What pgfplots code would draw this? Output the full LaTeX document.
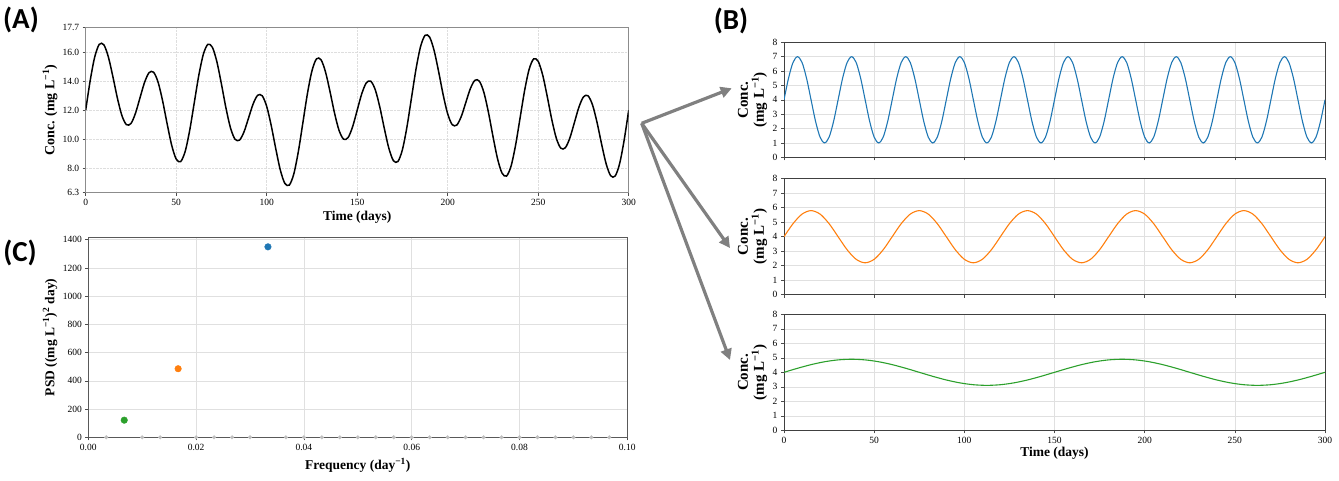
\documentclass[border=0pt]{standalone}
\usepackage{fontspec}
\setmainfont{Liberation Serif}
\newfontfamily\panelfont{Carlito}
\usepackage{pgfplots}
\pgfplotsset{compat=1.18}
\usetikzlibrary{arrows.meta}

\definecolor{tblue}{HTML}{1F77B4}
\definecolor{torange}{HTML}{FF7F0E}
\definecolor{tgreen}{HTML}{2CA02C}
\definecolor{arrowgray}{HTML}{808080}

\pgfplotsset{
  base/.style={
    scale only axis, anchor=south west,
    tick align=outside, major tick length=3pt,
    tick style={black!70, line width=0.6pt},
    /pgf/number format/assume math mode=true,
    /pgf/number format/1000 sep={},
    tick label style={font=\fontsize{9.5}{10}\selectfont},
    label style={font=\fontsize{13.5}{15}\selectfont\bfseries},
    xtick pos=left, ytick pos=left,
  },
  bpanel/.style={
    base, width=541pt, height=116pt,
    xmin=0, xmax=300, ymin=0, ymax=8,
    xtick={0,50,...,300}, ytick={0,1,...,8},
    grid=major, grid style={black!12, line width=0.6pt},
    axis line style={black!75, line width=0.9pt},
    tick label style={font=\fontsize{9.5}{10}\selectfont},
    ylabel={Conc.\\(mg L\textsuperscript{−1})},
    ylabel style={align=center, at={(axis description cs:-0.058,0.5)}, anchor=center,
      font=\fontsize{15}{16}\selectfont\bfseries},
  },
}

\begin{document}
\begin{tikzpicture}[x=1pt,y=1pt]
\path[use as bounding box] (0,0) rectangle (1339,480);

% ---------------- Panel A ----------------
\begin{axis}[base, at={(85.7pt,287.3pt)}, width=543pt, height=165pt,
  xmin=0, xmax=300, ymin=6.3, ymax=17.7,
  xtick={0,50,...,300}, ytick={6.3,8,10,12,14,16,17.7},
  yticklabel style={/pgf/number format/.cd, fixed, fixed zerofill, precision=1},
  grid=major, grid style={densely dotted, black!13, line width=0.5pt},
  axis line style={black!45, line width=1.2pt},
  xlabel={Time (days)}, ylabel={Conc. (mg L\textsuperscript{−1})},
  xlabel style={at={(axis description cs:0.5,-0.1475)}, anchor=center},
  ylabel style={at={(axis description cs:-0.0657,0.5)}, anchor=center,
    font=\fontsize{14}{15}\selectfont\bfseries},
]
\addplot[black, line width=1.5pt, smooth] coordinates {
(0,12.000) (2.5,14.060) (5,15.685) (7.5,16.551) (10,16.523) (12.5,15.689) (15,14.329) (17.5,12.841) (20,11.630) (22.5,11.001)
(25,11.081) (27.5,11.788) (30,12.856) (32.5,13.914) (35,14.593) (37.5,14.627) (40,13.934) (42.5,12.641) (45,11.056) (47.5,9.583)
(50,8.622) (52.5,8.455) (55,9.171) (57.5,10.636) (60,12.529) (62.5,14.416) (65,15.864) (67.5,16.551) (70,16.344) (72.5,15.333)
(75,13.800) (77.5,12.145) (80,10.774) (82.5,9.995) (85,9.936) (87.5,10.516) (90,11.471) (92.5,12.432) (95,13.029) (97.5,12.999)
(100,12.260) (102.5,10.939) (105,9.344) (107.5,7.881) (110,6.948) (112.5,6.827) (115,7.607) (117.5,9.154) (120,11.144) (122.5,13.144)
(125,14.719) (127.5,15.545) (130,15.488) (132.5,14.637) (135,13.271) (137.5,11.789) (140,10.595) (142.5,9.995) (145,10.115) (147.5,10.872)
(150,12.000) (152.5,13.128) (155,13.885) (157.5,14.005) (160,13.405) (162.5,12.211) (165,10.729) (167.5,9.363) (170,8.512) (172.5,8.455)
(175,9.281) (177.5,10.856) (180,12.856) (182.5,14.846) (185,16.393) (187.5,17.173) (190,17.052) (192.5,16.119) (195,14.656) (197.5,13.061)
(200,11.740) (202.5,11.001) (205,10.971) (207.5,11.568) (210,12.529) (212.5,13.484) (215,14.064) (217.5,14.005) (220,13.226) (222.5,11.855)
(225,10.200) (227.5,8.667) (230,7.656) (232.5,7.449) (235,8.136) (237.5,9.584) (240,11.471) (242.5,13.364) (245,14.829) (247.5,15.545)
(250,15.378) (252.5,14.417) (255,12.944) (257.5,11.359) (260,10.066) (262.5,9.373) (265,9.407) (267.5,10.086) (270,11.144) (272.5,12.212)
(275,12.919) (277.5,12.999) (280,12.370) (282.5,11.159) (285,9.671) (287.5,8.311) (290,7.477) (292.5,7.449) (295,8.315) (297.5,9.940)
(300,12.000)
};
\end{axis}

% ---------------- Panel C ----------------
\begin{axis}[base, at={(88.3pt,42.7pt)}, width=539pt, height=200pt,
  xmin=0, xmax=0.1, ymin=0, ymax=1417.5, clip=false,
  xtick={0,0.02,...,0.1}, ytick={0,200,...,1400},
  scaled x ticks=false,
  xticklabel style={/pgf/number format/.cd, fixed, fixed zerofill, precision=2},
  grid=major, grid style={black!12, line width=0.6pt},
  axis line style={black!65, line width=0.8pt},
  xlabel={Frequency (day\textsuperscript{−1})},
  ylabel={PSD ((mg L\textsuperscript{−1})\textsuperscript{2} day)},
  xlabel style={at={(axis description cs:0.5,-0.1385)}, anchor=center},
  ylabel style={at={(axis description cs:-0.071,0.5)}, anchor=center},
  axis on top=false,
]
\addplot[only marks, mark=*, mark size=1.8pt, color=black!25] coordinates {
(0.003333,0) (0.010000,0) (0.013333,0) (0.020000,0) (0.023333,0) (0.026667,0) (0.030000,0)
(0.036667,0) (0.040000,0) (0.043333,0) (0.046667,0) (0.050000,0) (0.053333,0) (0.056667,0)
(0.060000,0) (0.063333,0) (0.066667,0) (0.070000,0) (0.073333,0) (0.076667,0) (0.080000,0)
(0.083333,0) (0.086667,0) (0.090000,0) (0.093333,0) (0.096667,0)
};
\addplot[only marks, mark=*, mark size=3.3pt, color=tgreen] coordinates {(0.006667,121.5)};
\addplot[only marks, mark=*, mark size=3.3pt, color=torange] coordinates {(0.016667,486)};
\addplot[only marks, mark=*, mark size=3.3pt, color=tblue] coordinates {(0.033333,1350)};
\end{axis}

% ---------------- Panel B (top, blue) ----------------
\begin{axis}[bpanel, at={(784pt,322.7pt)}, height=115pt, xticklabels={}]
\addplot[tblue, line width=1.1pt, smooth] coordinates {
(0,4) (2.5,5.5) (5,6.598) (7.5,7) (10,6.598) (12.5,5.5) (15,4) (17.5,2.5) (20,1.402) (22.5,1) (25,1.402) (27.5,2.5)
(30,4) (32.5,5.5) (35,6.598) (37.5,7) (40,6.598) (42.5,5.5) (45,4) (47.5,2.5) (50,1.402) (52.5,1) (55,1.402) (57.5,2.5)
(60,4) (62.5,5.5) (65,6.598) (67.5,7) (70,6.598) (72.5,5.5) (75,4) (77.5,2.5) (80,1.402) (82.5,1) (85,1.402) (87.5,2.5)
(90,4) (92.5,5.5) (95,6.598) (97.5,7) (100,6.598) (102.5,5.5) (105,4) (107.5,2.5) (110,1.402) (112.5,1) (115,1.402) (117.5,2.5)
(120,4) (122.5,5.5) (125,6.598) (127.5,7) (130,6.598) (132.5,5.5) (135,4) (137.5,2.5) (140,1.402) (142.5,1) (145,1.402) (147.5,2.5)
(150,4) (152.5,5.5) (155,6.598) (157.5,7) (160,6.598) (162.5,5.5) (165,4) (167.5,2.5) (170,1.402) (172.5,1) (175,1.402) (177.5,2.5)
(180,4) (182.5,5.5) (185,6.598) (187.5,7) (190,6.598) (192.5,5.5) (195,4) (197.5,2.5) (200,1.402) (202.5,1) (205,1.402) (207.5,2.5)
(210,4) (212.5,5.5) (215,6.598) (217.5,7) (220,6.598) (222.5,5.5) (225,4) (227.5,2.5) (230,1.402) (232.5,1) (235,1.402) (237.5,2.5)
(240,4) (242.5,5.5) (245,6.598) (247.5,7) (250,6.598) (252.5,5.5) (255,4) (257.5,2.5) (260,1.402) (262.5,1) (265,1.402) (267.5,2.5)
(270,4) (272.5,5.5) (275,6.598) (277.5,7) (280,6.598) (282.5,5.5) (285,4) (287.5,2.5) (290,1.402) (292.5,1) (295,1.402) (297.5,2.5)
(300,4)
};
\end{axis}

% ---------------- Panel B (middle, orange) ----------------
\begin{axis}[bpanel, at={(784pt,185.3pt)}, xticklabels={}]
\addplot[torange, line width=1.1pt, smooth] coordinates {
(0,4) (5,4.9) (10,5.559) (15,5.8) (20,5.559) (25,4.9) (30,4) (35,3.1) (40,2.441) (45,2.2) (50,2.441) (55,3.1)
(60,4) (65,4.9) (70,5.559) (75,5.8) (80,5.559) (85,4.9) (90,4) (95,3.1) (100,2.441) (105,2.2) (110,2.441) (115,3.1)
(120,4) (125,4.9) (130,5.559) (135,5.8) (140,5.559) (145,4.9) (150,4) (155,3.1) (160,2.441) (165,2.2) (170,2.441) (175,3.1)
(180,4) (185,4.9) (190,5.559) (195,5.8) (200,5.559) (205,4.9) (210,4) (215,3.1) (220,2.441) (225,2.2) (230,2.441) (235,3.1)
(240,4) (245,4.9) (250,5.559) (255,5.8) (260,5.559) (265,4.9) (270,4) (275,3.1) (280,2.441) (285,2.2) (290,2.441) (295,3.1)
(300,4)
};
\end{axis}

% ---------------- Panel B (bottom, green) ----------------
\begin{axis}[bpanel, at={(784pt,49.7pt)},
  xlabel={Time (days)},
  xlabel style={at={(axis description cs:0.5,-0.196)}, anchor=center},
]
\addplot[tgreen, line width=1.1pt, smooth] coordinates {
(0,4) (7.5,4.278) (15,4.529) (22.5,4.728) (30,4.856) (37.5,4.9) (45,4.856) (52.5,4.728) (60,4.529) (67.5,4.278)
(75,4) (82.5,3.722) (90,3.471) (97.5,3.272) (105,3.144) (112.5,3.1) (120,3.144) (127.5,3.272) (135,3.471) (142.5,3.722)
(150,4) (157.5,4.278) (165,4.529) (172.5,4.728) (180,4.856) (187.5,4.9) (195,4.856) (202.5,4.728) (210,4.529) (217.5,4.278)
(225,4) (232.5,3.722) (240,3.471) (247.5,3.272) (255,3.144) (262.5,3.1) (270,3.144) (277.5,3.272) (285,3.471) (292.5,3.722)
(300,4)
};
\end{axis}

% ---------------- Arrows ----------------
\draw[arrowgray, line width=3.2pt, -{Triangle[length=11pt,width=11pt]}] (641.7,356.7) -- (731.7,391.7);
\draw[arrowgray, line width=3.2pt, -{Triangle[length=11pt,width=11pt]}] (641.7,356.7) -- (730,232);
\draw[arrowgray, line width=3.2pt, -{Triangle[length=11pt,width=11pt]}] (641.7,356.7) -- (730,120);

% ---------------- Panel letters ----------------
\node[font=\panelfont\bfseries\fontsize{29}{32}\selectfont] at (21,460) {(A)};
\node[font=\panelfont\bfseries\fontsize{29}{32}\selectfont] at (731,459) {(B)};
\node[font=\panelfont\bfseries\fontsize{29}{32}\selectfont] at (20,227) {(C)};
\end{tikzpicture}
\end{document}
